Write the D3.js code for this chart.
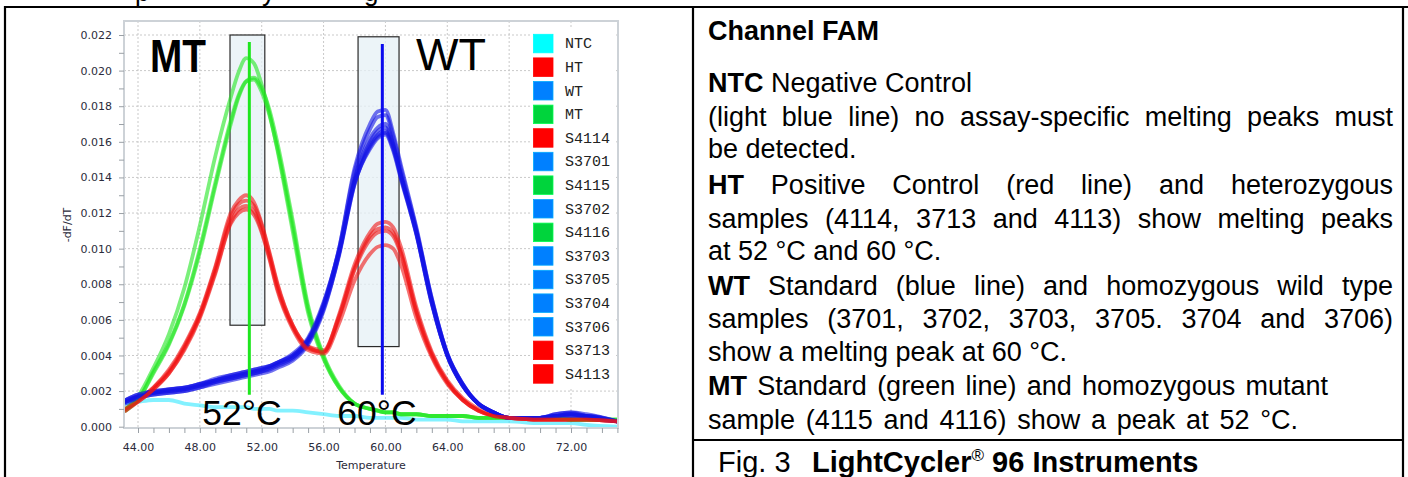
<!DOCTYPE html>
<html><head><meta charset="utf-8">
<script src="https://cdn.jsdelivr.net/npm/d3@7"></script>
<style>
html,body{margin:0;padding:0;background:#fff;}
svg{display:block;}
</style></head>
<body>
<svg id="c" width="1408" height="477"></svg>
<script>
// ---------------- DATA ----------------
const temps = [43.2,44,45,46,47,48, 49,50,50.5,51,51.5,52, 52.5,53,54,55,56,57, 58,59,59.5,60,60.5,61, 62,63,64,65,66,67, 68,70,71,72,73,75];

const NTC   = [.0013,.0014,.0015,.0015,.0013,.0012, .0011,.0011,.0011,.0011,.0010,.0010, .0010,.0009,.0009,.0008,.0007,.0006, .0006,.0005,.0005,.0005,.0005,.0005, .0004,.0004,.0004,.0003,.0003,.0003, .0003,.0002,.0002,.0002,.0001,.0000];

const HT    = [.0009,.0015,.0022,.0032,.0046,.0064, .0090,.0120,.0127,.0130,.0126,.0114, .0098,.0081,.0057,.0045,.0042,.0063, .0091,.0109,.0114,.0115,.0112,.0101, .0067,.0042,.0026,.0016,.0010,.0006, .0005,.0004,.0004,.0004,.0004,.0003];
const S4114 = [.0010,.0015,.0022,.0031,.0045,.0063, .0089,.0118,.0125,.0127,.0124,.0113, .0097,.0080,.0057,.0045,.0043,.0062, .0089,.0107,.0111,.0112,.0109,.0098, .0065,.0041,.0025,.0015,.0009,.0006, .0005,.0004,.0004,.0004,.0004,.0003];
const S3713 = [.0010,.0014,.0021,.0030,.0044,.0062, .0087,.0115,.0122,.0124,.0121,.0110, .0095,.0078,.0056,.0044,.0042,.0061, .0088,.0105,.0109,.0110,.0107,.0097, .0064,.0040,.0025,.0015,.0009,.0006, .0005,.0004,.0004,.0004,.0004,.0003];
const S4113 = [.0009,.0014,.0021,.0030,.0043,.0061, .0086,.0114,.0120,.0122,.0119,.0109, .0094,.0077,.0055,.0043,.0041,.0058, .0082,.0097,.0101,.0102,.0100,.0091, .0061,.0039,.0024,.0015,.0009,.0006, .0005,.0004,.0004,.0004,.0004,.0003];

const WT    = [.0014,.0017,.0019,.0020,.0021,.0023, .0026,.0028,.0029,.0030,.0031,.0032, .0033,.0035,.0039,.0048,.0068,.0100, .0145,.0170,.0177,.0178,.0165,.0147, .0112,.0072,.0041,.0024,.0013,.0008, .0005,.0005,.0006,.0007,.0006,.0003];
const S3701 = [.0015,.0018,.0020,.0021,.0022,.0024, .0027,.0029,.0030,.0031,.0032,.0033, .0034,.0036,.0040,.0049,.0069,.0100, .0143,.0167,.0174,.0175,.0163,.0145, .0111,.0072,.0041,.0024,.0013,.0008, .0005,.0005,.0006,.0006,.0006,.0003];
const S3702 = [.0014,.0016,.0018,.0019,.0020,.0022, .0024,.0026,.0027,.0028,.0029,.0030, .0031,.0033,.0037,.0046,.0065,.0097, .0139,.0162,.0168,.0170,.0159,.0142, .0110,.0071,.0041,.0024,.0013,.0008, .0005,.0005,.0007,.0008,.0006,.0003];
const S3703 = [.0015,.0017,.0019,.0021,.0022,.0024, .0026,.0028,.0029,.0030,.0031,.0032, .0034,.0036,.0040,.0049,.0068,.0098, .0138,.0160,.0166,.0168,.0158,.0141, .0109,.0070,.0040,.0023,.0013,.0008, .0005,.0005,.0006,.0007,.0005,.0003];
const S3705 = [.0013,.0016,.0018,.0019,.0020,.0022, .0025,.0027,.0028,.0029,.0030,.0031, .0032,.0034,.0038,.0047,.0066,.0096, .0136,.0158,.0164,.0166,.0157,.0141, .0109,.0070,.0040,.0023,.0013,.0008, .0005,.0005,.0006,.0006,.0006,.0003];
const S3704 = [.0014,.0017,.0019,.0020,.0021,.0023, .0025,.0027,.0028,.0029,.0030,.0031, .0033,.0035,.0039,.0048,.0067,.0097, .0136,.0157,.0163,.0165,.0156,.0140, .0108,.0069,.0040,.0023,.0013,.0008, .0005,.0005,.0007,.0008,.0007,.0003];
const S3706 = [.0015,.0018,.0020,.0021,.0022,.0024, .0026,.0029,.0030,.0031,.0032,.0033, .0034,.0036,.0041,.0050,.0070,.0099, .0137,.0156,.0162,.0164,.0155,.0139, .0108,.0069,.0040,.0023,.0013,.0008, .0005,.0005,.0006,.0007,.0006,.0003];

const MT    = [.0010,.0017,.0033,.0052,.0078,.0113, .0152,.0185,.0199,.0207,.0204,.0192, .0176,.0156,.0110,.0064,.0038,.0022, .0013,.0010,.0009,.0008,.0008,.0007, .0007,.0006,.0006,.0006,.0005,.0005, .0005,.0005,.0005,.0004,.0004,.0004];
const S4115 = [.0009,.0015,.0030,.0046,.0068,.0098, .0135,.0170,.0185,.0194,.0196,.0190, .0178,.0160,.0116,.0068,.0040,.0023, .0013,.0010,.0009,.0008,.0008,.0007, .0007,.0006,.0006,.0006,.0005,.0005, .0005,.0005,.0005,.0004,.0004,.0004];
const S4116 = [.0010,.0015,.0031,.0047,.0069,.0100, .0137,.0172,.0186,.0194,.0195,.0188, .0175,.0157,.0113,.0066,.0039,.0022, .0013,.0010,.0009,.0008,.0008,.0007, .0007,.0006,.0006,.0006,.0005,.0005, .0005,.0005,.0005,.0004,.0004,.0004];

const seriesNames  = ["NTC","HT","WT","MT","S4114","S3701","S4115","S3702","S4116","S3703","S3705","S3704","S3706","S3713","S4113"];
const seriesGroups = ["NTC","HT","WT","MT","HT","WT","MT","WT","MT","WT","WT","WT","WT","HT","HT"];
const seriesValues = [NTC,HT,WT,MT,S4114,S3701,S4115,S3702,S4116,S3703,S3705,S3704,S3706,S3713,S4113];

const yTicks = [0,0.002,0.004,0.006,0.008,0.010,0.012,0.014,0.016,0.018,0.020,0.022];
const yMinorTicks = [0.001,0.003,0.005,0.007,0.009,0.011,0.013,0.015,0.017,0.019,0.021];
const xTicks = [44,48,52,56,60,64,68,72];
const xMinorTicks = [45,46,47,49,50,51,53,54,55,57,58,59,61,62,63,65,66,67,69,70,71,73,74,75];

// peak annotations (data units)
const peakTemps   = [51.2, 59.8];
const peakLabels  = ["52°C","60°C"];
const peakNames   = ["MT","WT"];
const peakBoxT    = [[49.95,52.2],[58.23,60.88]];
const peakBoxV    = [[0.0057,0.0220],[0.0045,0.0219]];
const peakLineV   = [[0.0018,0.0216],[0.0018,0.0215]];

// ---------------- STYLE ----------------
const legendColor = {NTC:"#00ffff", HT:"#ff0000", WT:"#0080ff", MT:"#00d43c"};
const lineColor   = {NTC:"#30e8ff", HT:"#f01414", WT:"#1414e6", MT:"#22e622"};
const markColor   = ["#1ee61e","#0a0aee"];

const svg = d3.select("#c");
const sans = "'Liberation Sans', Arial, sans-serif";
const ui = "'DejaVu Sans', Verdana, sans-serif";

// document frame
const frame = svg.append("g").attr("stroke","#000").attr("stroke-width",2.2);
frame.append("line").attr("x1",5).attr("x2",1408).attr("y1",7).attr("y2",7);
frame.append("line").attr("x1",5).attr("x2",5).attr("y1",6).attr("y2",477);
frame.append("line").attr("x1",693).attr("x2",693).attr("y1",6).attr("y2",477);
frame.append("line").attr("x1",1403).attr("x2",1403).attr("y1",6).attr("y2",477);
frame.append("line").attr("x1",693).attr("x2",1403).attr("y1",440).attr("y2",440);

// cut-off line of text above the figure (only its descenders are visible)
[["p",135],["y",262],["g",364]].forEach(d=>{
  svg.append("text").attr("x",d[1]).attr("y",0.5).attr("font-family",sans).attr("font-size",26).text(d[0]);
});

// ---------------- CHART ----------------
const X0=124, X1=618, Y0=21, Y1=428;
const x = d3.scaleLinear().domain([44,72]).range([138,571]);
const y = d3.scaleLinear().domain([0,0.022]).range([426.7,35]);

svg.append("defs").append("clipPath").attr("id","clip")
  .append("rect").attr("x",X0+1).attr("y",Y0+1).attr("width",X1-X0-2).attr("height",Y1-Y0-2);

const chart = svg.append("g");
// grid
chart.append("g").selectAll("line").data(yTicks.filter(d=>d>0)).join("line")
  .attr("x1",X0).attr("x2",X1).attr("y1",d=>y(d)).attr("y2",d=>y(d))
  .attr("stroke","#c9c9c9").attr("stroke-dasharray","2,2").attr("stroke-width",1);
chart.append("g").selectAll("line").data(xTicks).join("line")
  .attr("y1",Y0).attr("y2",Y1).attr("x1",d=>x(d)).attr("x2",d=>x(d))
  .attr("stroke","#c9c9c9").attr("stroke-dasharray","2,2").attr("stroke-width",1);

// peak boxes
chart.append("g").selectAll("rect").data(peakBoxT).join("rect")
  .attr("x",d=>x(d[0])).attr("width",d=>x(d[1])-x(d[0]))
  .attr("y",(d,i)=>y(peakBoxV[i][1])).attr("height",(d,i)=>y(peakBoxV[i][0])-y(peakBoxV[i][1]))
  .attr("fill","#e6f0f6").attr("fill-opacity",0.75).attr("stroke","#2a2a2a").attr("stroke-width",1.2);

// curves
const line = d3.line().x((d,i)=>x(temps[i])).y(d=>y(d)).curve(d3.curveMonotoneX);
const curves = chart.append("g").attr("clip-path","url(#clip)");
seriesValues.forEach((vals,k)=>{
  curves.append("path").attr("d",line(vals)).attr("fill","none")
    .attr("stroke",lineColor[seriesGroups[k]]).attr("stroke-width",3.8)
    .attr("stroke-opacity",0.6).attr("stroke-linejoin","round").attr("stroke-linecap","round");
});

// peak vertical lines
chart.append("g").selectAll("line").data(peakTemps).join("line")
  .attr("x1",d=>x(d)).attr("x2",d=>x(d))
  .attr("y1",(d,i)=>y(peakLineV[i][1])).attr("y2",(d,i)=>y(peakLineV[i][0]))
  .attr("stroke",(d,i)=>markColor[i]).attr("stroke-width",3);

// annotation labels
chart.append("text").attr("x",150).attr("y",71.5).attr("font-family",sans).attr("font-weight","bold")
  .attr("font-size",46).attr("textLength",56).attr("lengthAdjust","spacingAndGlyphs").text(peakNames[0]);
chart.append("text").attr("x",416).attr("y",69.5).attr("font-family",sans)
  .attr("font-size",45).text(peakNames[1]);
chart.append("text").attr("x",x(peakTemps[0])-47).attr("y",425).attr("font-family",sans)
  .attr("font-size",35.5).text(peakLabels[0]);
chart.append("text").attr("x",x(peakTemps[1])-45).attr("y",425).attr("font-family",sans)
  .attr("font-size",35.5).text(peakLabels[1]);

// frame of plot
chart.append("rect").attr("x",X0).attr("y",Y0).attr("width",X1-X0).attr("height",Y1-Y0)
  .attr("fill","none").attr("stroke","#cdd2d7").attr("stroke-width",2);

// axes
const yAxis = d3.axisLeft(y).tickValues(yTicks).tickFormat(d3.format(".3f")).tickSize(5).tickPadding(7).tickSizeOuter(0);
const yMinor = d3.axisLeft(y).tickValues(yMinorTicks).tickFormat("").tickSize(5).tickSizeOuter(0);
const xAxis = d3.axisBottom(x).tickValues(xTicks).tickFormat(d3.format(".2f")).tickSize(5).tickPadding(10).tickSizeOuter(0);
const xMinor = d3.axisBottom(x).tickValues(xMinorTicks).tickFormat("").tickSize(5).tickSizeOuter(0);

function styleAxis(g){
  g.select(".domain").remove();
  g.selectAll("line").attr("stroke","#9aa0a6");
  g.selectAll("text").attr("font-family",ui).attr("font-size",11).attr("fill","#2b2b3b");
}
chart.append("g").attr("transform",`translate(${X0},0)`).call(yAxis).call(styleAxis);
chart.append("g").attr("transform",`translate(${X0},0)`).call(yMinor).call(styleAxis);
chart.append("g").attr("transform",`translate(0,${Y1})`).call(xAxis).call(styleAxis);
chart.append("g").attr("transform",`translate(0,${Y1})`).call(xMinor).call(styleAxis);

chart.append("text").attr("transform","translate(71,225) rotate(-90)").attr("text-anchor","middle")
  .attr("font-family",ui).attr("font-size",11).attr("fill","#2b2b3b").text("-dF/dT");
chart.append("text").attr("x",371).attr("y",469).attr("text-anchor","middle")
  .attr("font-family",ui).attr("font-size",11).attr("fill","#2b2b3b").text("Temperature");

// legend
const lg = chart.append("g");
lg.append("rect").attr("x",530).attr("y",28).attr("width",86).attr("height",361).attr("fill","#fff");
seriesNames.forEach((n,i)=>{
  const cy = 43.3 + 23.6*i;
  lg.append("rect").attr("x",533.5).attr("y",cy-9).attr("width",19.5).attr("height",18.5)
    .attr("fill",legendColor[seriesGroups[i]]).attr("stroke",d3.color(legendColor[seriesGroups[i]]).brighter(0.8)).attr("stroke-width",0.8);
  lg.append("text").attr("x",565).attr("y",cy+5).attr("font-family","'Liberation Mono','Courier New',monospace")
    .attr("font-size",15).attr("fill","#222").text(n);
});

// ---------------- TEXT PANEL ----------------
// w: target line width when the line is spread to a set width
const panelLines = [
 {y:40,  segs:[["Channel FAM",1]]},
 {y:92,  segs:[["NTC",1],[" Negative Control",0]]},
 {y:126, segs:[["(light blue line) no assay-specific melting peaks must",0]], w:685},
 {y:158, segs:[["be detected.",0]]},
 {y:194, segs:[["HT",1],[" Positive Control (red line) and heterozygous",0]], w:685},
 {y:228, segs:[["samples (4114, 3713 and 4113) show melting peaks",0]], w:685},
 {y:260, segs:[["at 52 °C and 60 °C.",0]]},
 {y:295, segs:[["WT",1],[" Standard (blue line) and homozygous wild type",0]], w:685},
 {y:328, segs:[["samples (3701, 3702, 3703, 3705. 3704 and 3706)",0]], w:685},
 {y:361, segs:[["show a melting peak at 60 °C.",0]]},
 {y:395, segs:[["MT",1],[" Standard (green line) and homozygous mutant",0]], w:620},
 {y:429, segs:[["sample (4115 and 4116) show a peak at 52 °C.",0]], w:590}
];
const FS = 27, TX = 708;
const tp = svg.append("g").attr("font-family",sans).attr("font-size",FS).attr("fill","#000");
panelLines.forEach(L=>{
  if(!L.w){
    const t = tp.append("text").attr("x",TX).attr("y",L.y);
    L.segs.forEach(s=>t.append("tspan").attr("font-weight",s[1]?"bold":"normal").text(s[0]));
  } else {
    const words=[];
    L.segs.forEach(s=>s[0].split(" ").filter(w=>w.length).forEach(w=>words.push([w,s[1]])));
    const els = words.map(w=>tp.append("text").attr("y",L.y).attr("font-weight",w[1]?"bold":"normal").text(w[0]));
    const ws = els.map(e=>e.node().getComputedTextLength());
    const gap = Math.max(6, (L.w - d3.sum(ws))/(words.length-1));
    let cx = TX;
    els.forEach((e,i)=>{e.attr("x",cx); cx += ws[i]+gap;});
  }
});
const fig = tp.append("text").attr("x",718).attr("y",472).attr("font-size",29);
fig.append("tspan").text("Fig. 3");
fig.append("tspan").attr("x",812).attr("font-weight","bold").text("LightCycler");
fig.append("tspan").attr("font-size",17).attr("dy",-11).text("®");
fig.append("tspan").attr("font-weight","bold").attr("dy",11).text(" 96 Instruments");
</script>
</body></html>
